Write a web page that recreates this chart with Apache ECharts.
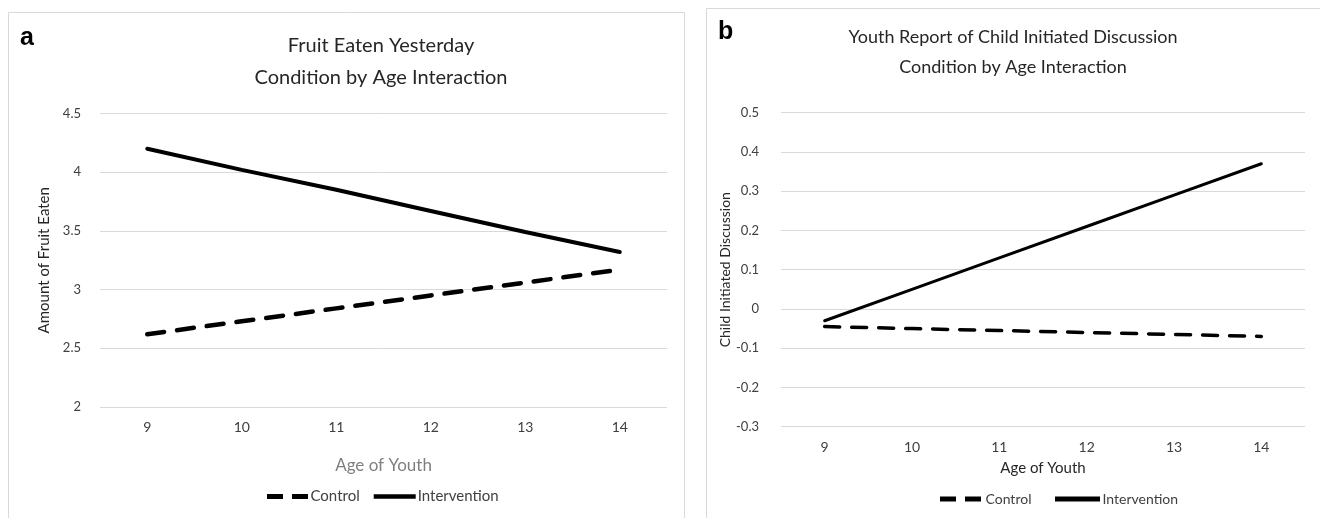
<!DOCTYPE html>
<html><head><meta charset="utf-8">
<script src="https://cdn.jsdelivr.net/npm/echarts@6/dist/echarts.min.js"></script>
<style>html,body{margin:0;padding:0;background:#fff}#c{width:1320px;height:518px}</style>
</head><body><div id="c"></div>
<script>
const ages = ['9','10','11','12','13','14'];
const fruitControl = [2.62, 2.73, 2.84, 2.95, 3.06, 3.17];
const fruitIntervention = [4.20, 4.02, 3.85, 3.67, 3.49, 3.32];
const discControl = [-0.045, -0.050, -0.055, -0.060, -0.065, -0.070];
const discIntervention = [-0.03, 0.05, 0.13, 0.21, 0.29, 0.37];
const FONT = 'Lato';
const DASH_ICON = 'path://M0,0h16v5h-16z M25,0h16v5h-16z';
const SOLID_ICON = 'path://M0,0h45v5h-45z';

const chart = echarts.init(document.getElementById('c'), null, {renderer:'canvas'});
const ySplit = {show:true, lineStyle:{color:'#d9d9d9', width:1}};
chart.setOption({
  animation:false,
  textStyle:{fontFamily:FONT},
  graphic:[
    {type:'rect', shape:{x:8.5,y:12.5,width:676,height:520}, style:{fill:'none',stroke:'#d9d9d9',lineWidth:1}},
    {type:'rect', shape:{x:706.5,y:8.5,width:620,height:520}, style:{fill:'none',stroke:'#d9d9d9',lineWidth:1}},
    {type:'text', left:20, top:26, style:{text:'a', font:'bold 25px "Liberation Sans"', fill:'#000'}},
    {type:'text', left:718, top:20, style:{text:'b', font:'bold 25px "Liberation Sans"', fill:'#000'}},
    {type:'text', x:381, y:46, style:{text:'Fruit Eaten Yesterday', font:'20px '+FONT, fill:'#262626', align:'center', verticalAlign:'middle'}},
    {type:'text', x:381, y:78, style:{text:'Condition by Age Interaction', font:'20px '+FONT, fill:'#262626', align:'center', verticalAlign:'middle'}},
    {type:'text', x:1013, y:37, style:{text:'Youth Report of Child Initiated Discussion', font:'18px '+FONT, fill:'#262626', align:'center', verticalAlign:'middle'}},
    {type:'text', x:1013, y:67, style:{text:'Condition by Age Interaction', font:'18px '+FONT, fill:'#262626', align:'center', verticalAlign:'middle'}}
  ],
  grid:[
    {left:100, right:653, top:113.5, bottom:111},
    {left:781, right:15, top:112.7, bottom:91.3}
  ],
  xAxis:[
    {type:'category', gridIndex:0, data:ages, boundaryGap:true,
     axisLine:{show:false}, axisTick:{show:false},
     axisLabel:{margin:13, fontSize:14, color:'#404040', fontFamily:FONT},
     name:'Age of Youth', nameLocation:'middle', nameGap:50,
     nameTextStyle:{fontSize:17, color:'#7f7f7f', fontFamily:FONT}},
    {type:'category', gridIndex:1, data:ages, boundaryGap:true,
     axisLine:{show:false}, axisTick:{show:false},
     axisLabel:{margin:14, fontSize:14, color:'#404040', fontFamily:FONT},
     name:'Age of Youth', nameLocation:'middle', nameGap:34,
     nameTextStyle:{fontSize:15, color:'#262626', fontFamily:FONT}}
  ],
  yAxis:[
    {type:'value', gridIndex:0, min:2, max:4.5, interval:0.5,
     axisLine:{show:false}, axisTick:{show:false}, splitLine:ySplit,
     axisLabel:{margin:19, fontSize:13, color:'#404040', fontFamily:FONT},
     name:'Amount of Fruit Eaten', nameLocation:'middle', nameGap:48,
     nameTextStyle:{fontSize:15, color:'#262626', fontFamily:FONT}},
    {type:'value', gridIndex:1, min:-0.3, max:0.5, interval:0.1,
     axisLine:{show:false}, axisTick:{show:false}, splitLine:ySplit,
     axisLabel:{margin:22, fontSize:13, color:'#404040', fontFamily:FONT,
       formatter:v=>String(Math.round(v*10)/10)},
     name:'Child Initiated Discussion', nameLocation:'middle', nameGap:47,
     nameTextStyle:{fontSize:14, color:'#262626', fontFamily:FONT}}
  ],
  legend:[
    {data:[{name:'Control', icon:DASH_ICON},{name:'Intervention', icon:SOLID_ICON}],
     left:262, top:484, itemWidth:42, itemHeight:5, itemGap:14,
     textStyle:{fontSize:15, color:'#404040', fontFamily:FONT, padding:[0,0,0,-3]}},
    {data:[{name:'Control ', icon:DASH_ICON},{name:'Intervention ', icon:SOLID_ICON}],
     left:935, top:487, itemWidth:46, itemHeight:5, itemGap:20,
     textStyle:{fontSize:14, color:'#404040', fontFamily:FONT, padding:[0,0,0,-3]}}
  ],
  series:[
    {name:'Control', type:'line', xAxisIndex:0, yAxisIndex:0, data:fruitControl, symbol:'none',
     lineStyle:{color:'#000', width:4.5, type:[17,13], cap:'round'}, itemStyle:{color:'#000'}},
    {name:'Intervention', type:'line', xAxisIndex:0, yAxisIndex:0, data:fruitIntervention, symbol:'none',
     lineStyle:{color:'#000', width:4, cap:'round'}, itemStyle:{color:'#000'}},
    {name:'Control ', type:'line', xAxisIndex:1, yAxisIndex:1, data:discControl, symbol:'none',
     lineStyle:{color:'#000', width:3.5, type:[15,12], cap:'round'}, itemStyle:{color:'#000'}},
    {name:'Intervention ', type:'line', xAxisIndex:1, yAxisIndex:1, data:discIntervention, symbol:'none',
     lineStyle:{color:'#000', width:3, cap:'round'}, itemStyle:{color:'#000'}}
  ]
});
</script></body></html>
